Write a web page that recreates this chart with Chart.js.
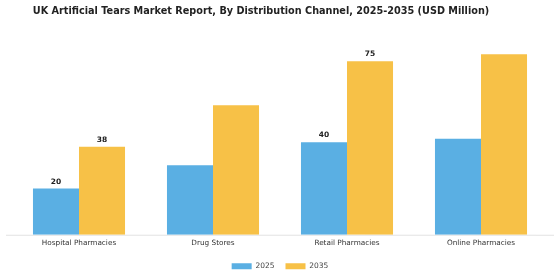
<!DOCTYPE html>
<html lang="en">
<head>
<meta charset="UTF-8">
<title>UK Artificial Tears Market Report</title>
<script src="https://cdn.jsdelivr.net/npm/chart.js"></script>
<style>
    html, body { margin: 0; padding: 0; background: #ffffff; }
    .wrap { width: 560px; height: 280px; position: relative; }
</style>
</head>
<body>
<div class="wrap"><canvas id="chart"></canvas></div>
<script>
    const titleText = "UK Artificial Tears Market Report, By Distribution Channel, 2025-2035 (USD Million)";
    const categories = ["Hospital Pharmacies", "Drug Stores", "Retail Pharmacies", "Online Pharmacies"];
    const values2025 = [20, 30, 40, 41.5];
    const values2035 = [38, 56, 75, 78];
    // value labels only appear on some bars in the reference
    const labels2025 = ["20", null, "40", null];
    const labels2035 = ["38", null, "75", null];

    // title sits a little left of centre in the original, so draw it by hand
    const chartTitle = {
        id: "chartTitle",
        afterDraw(chart) {
            const ctx = chart.ctx;
            ctx.save();
            ctx.font = "bold 9.7px 'DejaVu Sans'";
            ctx.fillStyle = "#222";
            ctx.textAlign = "center";
            ctx.textBaseline = "middle";
            ctx.fillText(titleText, 261, 11);
            ctx.restore();
        }
    };

    // light baseline running nearly edge to edge
    const baseLine = {
        id: "baseLine",
        beforeDatasetsDraw(chart) {
            const ctx = chart.ctx;
            const y = chart.scales.y.getPixelForValue(0) + 0.5;
            ctx.save();
            ctx.strokeStyle = "#e2e2e2";
            ctx.lineWidth = 1;
            ctx.beginPath();
            ctx.moveTo(6, y);
            ctx.lineTo(554, y);
            ctx.stroke();
            ctx.restore();
        }
    };

    const valueLabels = {
        id: "valueLabels",
        afterDatasetsDraw(chart) {
            const ctx = chart.ctx;
            const lists = [labels2025, labels2035];
            ctx.save();
            ctx.font = "bold 7.5px 'DejaVu Sans'";
            ctx.fillStyle = "#222";
            ctx.textAlign = "center";
            ctx.textBaseline = "bottom";
            chart.data.datasets.forEach((ds, i) => {
                chart.getDatasetMeta(i).data.forEach((bar, j) => {
                    if (lists[i][j]) ctx.fillText(lists[i][j], bar.x, bar.y - 3);
                });
            });
            ctx.restore();
        }
    };

    new Chart(document.getElementById("chart"), {
        type: "bar",
        data: {
            labels: categories,
            datasets: [
                { label: "2025", data: values2025, backgroundColor: "#5aafe3" },
                { label: "2035", data: values2035, backgroundColor: "#f7c147" }
            ]
        },
        options: {
            responsive: true,
            maintainAspectRatio: false,
            animation: false,
            layout: { padding: { left: 12, right: 12, top: 45, bottom: 0 } },
            datasets: { bar: { categoryPercentage: 0.687, barPercentage: 1 } },
            plugins: {
                title: { display: false },
                legend: {
                    position: "bottom",
                    labels: {
                        boxWidth: 20, boxHeight: 6,
                        font: { family: "DejaVu Sans", size: 7.5 },
                        color: "#444",
                        padding: 11
                    }
                },
                tooltip: { enabled: false }
            },
            scales: {
                x: {
                    grid: { display: false, drawTicks: false },
                    border: { display: false },
                    ticks: { font: { family: "DejaVu Sans", size: 7.3 }, color: "#333", padding: 4 }
                },
                y: {
                    display: false,
                    min: 0,
                    max: 82
                }
            }
        },
        plugins: [baseLine, valueLabels, chartTitle]
    });
</script>
</body>
</html>
